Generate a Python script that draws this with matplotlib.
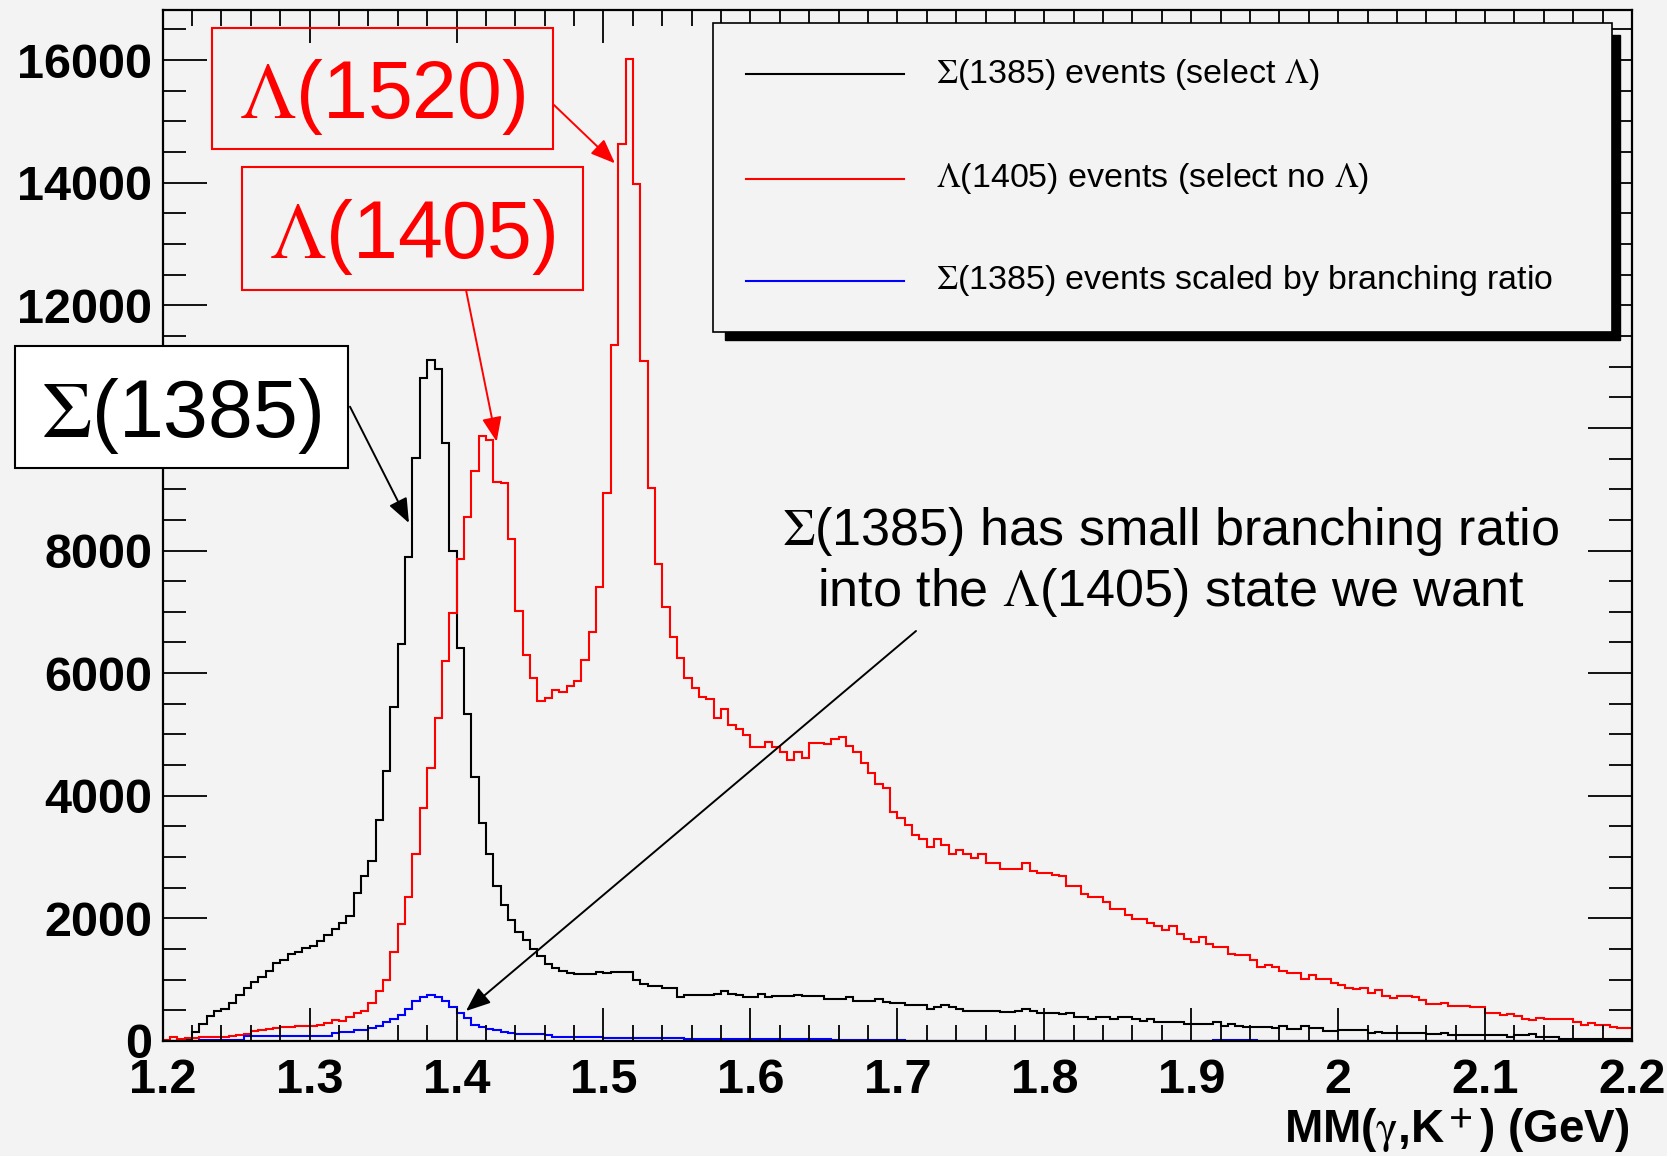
import numpy as np
import matplotlib
matplotlib.use("Agg")
import matplotlib.pyplot as plt
from matplotlib.patches import Rectangle
from matplotlib.lines import Line2D
from matplotlib.ticker import MultipleLocator, FuncFormatter

W, H = 1667, 1156
BG = "#f3f3f3"

plt.rcParams["font.family"] = ["Liberation Sans", "DejaVu Sans"]
plt.rcParams["mathtext.fontset"] = "stix"

# MM(gamma, K+) histogram, 200 bins of 5 MeV from 1.2 to 2.2 GeV
mm_lo, mm_hi, n_bins = 1.2, 2.2, 200
edges = np.linspace(mm_lo, mm_hi, n_bins + 1)

# Sigma(1385) events (select Lambda)  -- black
sigma_sel = [
    0, 0, 10, 30, 150, 277, 406, 484, 529, 626,
    755, 871, 968, 1045, 1148, 1271, 1322, 1419, 1451, 1516,
    1548, 1625, 1722, 1819, 1929, 2032, 2419, 2696, 2935, 3599,
    4399, 5450, 6482, 7888, 9514, 10812, 11111, 10959, 9750, 7985,
    6418, 5341, 4302, 3548, 3051, 2528, 2225, 1967, 1774, 1645,
    1503, 1387, 1258, 1193, 1142, 1116, 1097, 1097, 1097, 1129,
    1116, 1129, 1129, 1129, 1000, 935, 903, 903, 871, 858,
    710, 755, 755, 755, 755, 774, 819, 774, 755, 710,
    710, 774, 722, 742, 742, 742, 755, 742, 742, 742,
    690, 690, 690, 710, 658, 658, 658, 677, 632, 613,
    613, 593, 593, 580, 529, 548, 580, 561, 529, 497,
    484, 497, 497, 484, 470, 472, 489, 527, 489, 462,
    462, 462, 434, 451, 391, 391, 364, 391, 391, 364,
    391, 391, 364, 326, 353, 315, 315, 315, 315, 282,
    282, 282, 282, 310, 244, 272, 244, 228, 228, 228,
    228, 206, 244, 190, 190, 244, 206, 206, 163, 163,
    174, 174, 174, 174, 136, 152, 136, 136, 136, 136,
    136, 136, 119, 119, 136, 98, 98, 98, 98, 98,
    98, 98, 98, 71, 98, 98, 109, 65, 65, 65,
    27, 27, 27, 27, 27, 27, 27, 27, 27, 27,
]

# Lambda(1405) events (select no Lambda)  -- red
lambda_sel = [
    19, 65, 32, 45, 52, 58, 65, 58, 71, 77,
    97, 110, 161, 174, 194, 213, 226, 226, 239, 239,
    252, 258, 290, 342, 322, 387, 452, 484, 613, 819,
    1000, 1451, 1903, 2354, 3051, 3806, 4451, 5270, 6205, 6979,
    7869, 8546, 9300, 9869, 9804, 9123, 9094, 8192, 7011, 6289,
    5915, 5547, 5592, 5721, 5695, 5786, 5870, 6211, 6663, 7398,
    8930, 11356, 14624, 16013, 13970, 11084, 9020, 7772, 7076, 6592,
    6244, 5921, 5753, 5612, 5579, 5270, 5418, 5160, 5096, 4986,
    4792, 4792, 4883, 4792, 4709, 4580, 4709, 4612, 4857, 4857,
    4838, 4921, 4954, 4818, 4709, 4528, 4367, 4193, 4128, 3741,
    3644, 3528, 3354, 3290, 3161, 3290, 3193, 3051, 3115, 3051,
    2986, 3051, 2903, 2903, 2806, 2806, 2806, 2903, 2774, 2741,
    2742, 2715, 2688, 2536, 2536, 2400, 2346, 2346, 2264, 2145,
    2145, 2047, 1993, 1993, 1928, 1873, 1803, 1873, 1738, 1656,
    1618, 1700, 1575, 1531, 1531, 1423, 1396, 1396, 1314, 1205,
    1238, 1205, 1140, 1113, 1113, 1005, 1070, 1015, 1015, 950,
    907, 869, 842, 869, 787, 831, 733, 695, 733, 733,
    717, 662, 597, 597, 624, 570, 570, 570, 554, 554,
    462, 462, 424, 445, 407, 364, 342, 380, 353, 353,
    353, 353, 310, 255, 288, 255, 255, 228, 206, 206,
]

# Sigma(1385) events scaled by branching ratio  -- blue
sigma_scaled = [
    0, 0, 0, 0, 0, 20, 20, 20, 20, 20,
    20, 84, 84, 84, 84, 84, 84, 84, 84, 84,
    84, 84, 84, 129, 148, 148, 174, 174, 206, 245,
    303, 355, 432, 516, 645, 710, 755, 710, 658, 548,
    452, 374, 258, 226, 194, 174, 148, 129, 116, 116,
    116, 116, 97, 65, 65, 65, 65, 65, 65, 65,
    45, 45, 45, 45, 45, 45, 45, 45, 45, 45,
    45, 30, 30, 30, 30, 30, 30, 30, 30, 30,
    30, 30, 30, 30, 30, 30, 30, 30, 30, 30,
    30, 15, 15, 15, 15, 15, 15, 15, 15, 15,
    15, 0, 0, 0, 0, 0, 0, 0, 0, 0,
    0, 0, 0, 0, 0, 0, 0, 0, 0, 0,
    0, 0, 0, 0, 0, 0, 0, 0, 0, 0,
    0, 0, 0, 0, 0, 0, 0, 0, 0, 0,
    0, 0, 0, 20, 20, 20, 20, 20, 20, 0,
    0, 0, 0, 0, 0, 0, 0, 0, 0, 0,
    0, 0, 0, 0, 0, 0, 0, 0, 0, 0,
    0, 0, 0, 0, 0, 0, 0, 0, 0, 0,
    0, 0, 0, 0, 0, 0, 0, 0, 0, 0,
    0, 0, 0, 0, 0, 0, 0, 0, 0, 0,
]

legend_labels = [
    r"$\Sigma$(1385) events (select $\Lambda$)",
    r"$\Lambda$(1405) events (select no $\Lambda$)",
    r"$\Sigma$(1385) events scaled by branching ratio",
]
colors = ["black", "red", "blue"]


def fxy(x, y):
    """Top-left pixel position -> figure fraction."""
    return x / W, 1 - y / H


fig = plt.figure(figsize=(W / 100, H / 100), dpi=100, facecolor=BG)
ax = fig.add_axes([162.7 / W, 1 - 1041 / H, 1469.3 / W, 1031 / H], facecolor=BG)

for vals, c in zip([sigma_sel, lambda_sel, sigma_scaled], colors):
    ax.stairs(vals, edges, color=c, lw=1.5)

ax.set_xlim(mm_lo, mm_hi)
ax.set_ylim(0, 16816)
ax.xaxis.set_major_locator(MultipleLocator(0.1))
ax.xaxis.set_minor_locator(MultipleLocator(0.02))
ax.yaxis.set_major_locator(MultipleLocator(2000))
ax.yaxis.set_minor_locator(MultipleLocator(500))
ax.xaxis.set_major_formatter(FuncFormatter(lambda v, p: f"{round(v, 2):g}"))
ax.yaxis.set_major_formatter(FuncFormatter(lambda v, p: f"{v:g}"))
ax.tick_params(which="both", direction="in", top=True, right=True, width=1.3,
               labelsize=35)
ax.tick_params(axis="x", which="major", length=23.5, pad=12)
ax.tick_params(axis="x", which="minor", length=11.5)
ax.tick_params(axis="y", which="major", length=32, pad=7.5)
ax.tick_params(axis="y", which="minor", length=16.5)
for lbl in ax.get_xticklabels() + ax.get_yticklabels():
    lbl.set_fontweight("bold")
for s in ax.spines.values():
    s.set_linewidth(1.6)

ax.set_xlabel(r"MM($\mathrm{\gamma}$,K$^{\bf +}$) (GeV)", fontsize=33,
              fontweight="bold")
ax.xaxis.set_label_coords(0.998, -(1143 - 1041) / 1031)
ax.xaxis.label.set_ha("right")
ax.xaxis.label.set_va("baseline")

# labelled boxes: text, (x0, y0, x1, y1) px, baseline px, colour, fill
boxes = [
    (r"$\Lambda$(1520)", (211.7, 27.7, 553.3, 149), 118.3, "red", None),
    (r"$\Lambda$(1405)", (242.3, 166.7, 582.7, 290), 258.3, "red", None),
    (r"$\Sigma$(1385)", (14.9, 345.5, 347.7, 467.8), 436.7, "black", "white"),
]
for txt, (x0, y0, x1, y1), base, c, fc in boxes:
    fx0, fy1 = fxy(x0, y1)
    rect = Rectangle((fx0, fy1), (x1 - x0) / W, (y1 - y0) / H,
                     transform=fig.transFigure, edgecolor=c, lw=1.5,
                     facecolor=fc if fc else "none", fill=fc is not None, zorder=5)
    fig.add_artist(rect)
    fig.text(*fxy((x0 + x1) / 2, base), txt, color=c, fontsize=58,
             ha="center", va="baseline", zorder=6)

# arrows: tail (px), tip (data), colour
arrows = [
    ((554, 105), (1.5078, 14315), "red"),
    ((466, 290), (1.4273, 9775), "red"),
    ((350, 406.7), (1.3676, 8449), "black"),
    ((916, 631), (1.4064, 489), "black"),
]
for tail, tip, c in arrows:
    ax.annotate("", xy=tip, xycoords="data", xytext=fxy(*tail),
                textcoords="figure fraction", annotation_clip=False,
                arrowprops=dict(arrowstyle="-|>,head_length=0.5,head_width=0.2",
                                mutation_scale=30, color=c, lw=1.4,
                                shrinkA=0, shrinkB=0))

fig.text(*fxy(1171, 545), r"$\Sigma$(1385) has small branching ratio",
         fontsize=37.5, ha="center", va="baseline", zorder=6)
fig.text(*fxy(1171, 606), r"into the $\Lambda$(1405) state we want",
         fontsize=37.5, ha="center", va="baseline", zorder=6)

# legend box with ROOT-like shadow
sx0, sy1 = fxy(725, 340)
fig.add_artist(Rectangle((sx0, sy1), (1620 - 725) / W, (340 - 35) / H,
                         transform=fig.transFigure, facecolor="black",
                         edgecolor="black", zorder=4))
bx0, by1 = fxy(713, 332)
fig.add_artist(Rectangle((bx0, by1), (1612 - 713) / W, (332 - 23) / H,
                         transform=fig.transFigure, facecolor=BG,
                         edgecolor="black", lw=1.2, zorder=5))
for lab, c, ly in zip(legend_labels, colors, [74, 179, 281]):
    (lx0, lyy), (lx1, _) = fxy(746, ly), fxy(904, ly)
    fig.add_artist(Line2D([lx0, lx1], [lyy, lyy], color=c, lw=1.5,
                          transform=fig.transFigure, zorder=6))
    fig.text(*fxy(936, ly), lab, fontsize=24.5, ha="left", va="center", zorder=6)

fig.savefig("out.png", dpi=100, facecolor=BG)
